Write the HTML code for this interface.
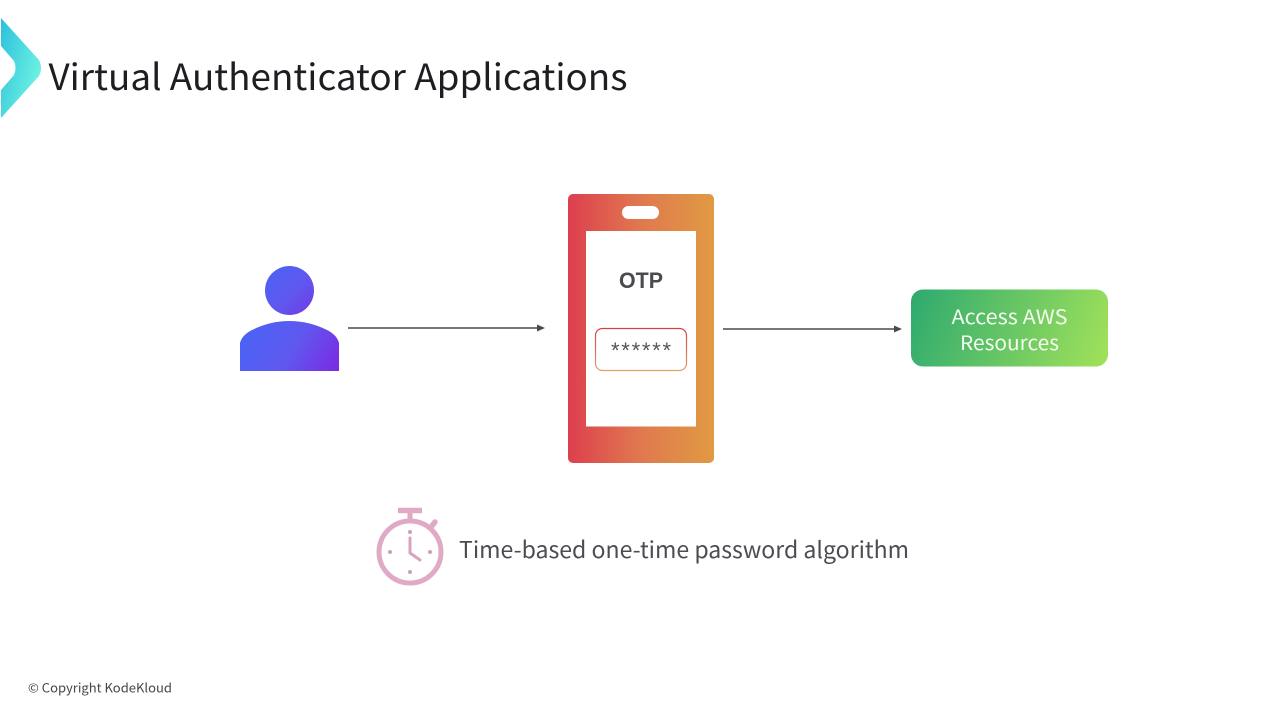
<!DOCTYPE html>
<html><head><meta charset="utf-8"><style>
html,body{margin:0;padding:0;background:#fff;width:1280px;height:720px;overflow:hidden}
svg{display:block}
.n{font-family:"Noto Sans CJK JP","Liberation Sans",sans-serif}
.l{font-family:"Liberation Sans",sans-serif}
</style></head><body>
<svg width="1280" height="720" viewBox="0 0 1280 720" xmlns="http://www.w3.org/2000/svg">
<defs>
<linearGradient id="logo" x1="0" y1="0" x2="1" y2="0.6"><stop offset="0" stop-color="#2cc0dc"/><stop offset="1" stop-color="#6ff3e2"/></linearGradient>
<linearGradient id="userC" x1="0" y1="0" x2="1" y2="1"><stop offset="0" stop-color="#4a63f5"/><stop offset="0.55" stop-color="#5f58ef"/><stop offset="1" stop-color="#7438e6"/></linearGradient>
<linearGradient id="userB" gradientUnits="userSpaceOnUse" x1="250" y1="320" x2="340" y2="372"><stop offset="0" stop-color="#4a63f5"/><stop offset="0.5" stop-color="#5f58ef"/><stop offset="1" stop-color="#7d28e2"/></linearGradient>
<linearGradient id="phone" x1="0" y1="0" x2="1" y2="0"><stop offset="0" stop-color="#dd3f4e"/><stop offset="0.5" stop-color="#e0794f"/><stop offset="1" stop-color="#e09a42"/></linearGradient>
<linearGradient id="box" gradientUnits="userSpaceOnUse" x1="915" y1="295" x2="1100" y2="362"><stop offset="0" stop-color="#30ab6f"/><stop offset="1" stop-color="#9de05a"/></linearGradient>
<linearGradient id="otp" x1="0" y1="0" x2="0" y2="1"><stop offset="0" stop-color="#d8404a"/><stop offset="1" stop-color="#dfa06a"/></linearGradient>
</defs>
<path d="M1 18 L39 60 Q43 68 39 76 L1 118 L1 90 L14 75 Q17 68 14 61 L1 46 Z" fill="url(#logo)"/>
<text class="n" x="48.500" y="90" font-size="36" fill="#1e1e22" textLength="579" lengthAdjust="spacingAndGlyphs">Virtual Authenticator Applications</text>

<circle cx="289.500" cy="290.500" r="24.500" fill="url(#userC)"/>
<path d="M240 371 L240 343 Q242 335 252 330 Q270 321 289.500 321 Q309 321 327 330 Q337 335 339 343 L339 371 Z" fill="url(#userB)"/>

<line x1="348" y1="328" x2="538" y2="328" stroke="#4a4a4f" stroke-width="1.600"/>
<path d="M545 328 L537 324.500 L537 331.500 Z" fill="#4a4a4f"/>

<rect x="568" y="194" width="146" height="269" rx="5" fill="url(#phone)"/>
<rect x="622" y="206" width="37" height="13" rx="6.500" fill="#fff"/>
<rect x="586" y="231" width="110" height="195.500" fill="#fff"/>
<text class="l" x="641" y="288" font-size="22" font-weight="700" fill="#4a4a50" text-anchor="middle" textLength="44" lengthAdjust="spacingAndGlyphs">OTP</text>
<rect x="595.500" y="328.500" width="91" height="42" rx="7" fill="#fff" stroke="url(#otp)" stroke-width="1.200"/>
<text class="l" x="641" y="358" font-size="22" fill="#55555a" text-anchor="middle" textLength="60" lengthAdjust="spacing">******</text>

<line x1="723" y1="329" x2="895" y2="329" stroke="#4a4a4f" stroke-width="1.600"/>
<path d="M902 329 L894 325.500 L894 332.500 Z" fill="#4a4a4f"/>

<rect x="911" y="289.500" width="197" height="77" rx="12" fill="url(#box)"/>
<text class="n" x="1009.500" y="324" font-size="20" fill="#f4fbf0" text-anchor="middle" textLength="116" lengthAdjust="spacingAndGlyphs">Access AWS</text>
<text class="n" x="1009.500" y="350" font-size="20" fill="#f4fbf0" text-anchor="middle" textLength="99" lengthAdjust="spacingAndGlyphs">Resources</text>

<g fill="none" stroke="#e0aac6">
<circle cx="410" cy="552" r="31" stroke-width="5"/>
<line x1="398" y1="510.500" x2="422" y2="510.500" stroke-width="5.500"/>
<line x1="410" y1="512" x2="410" y2="521" stroke-width="5"/>
<line x1="431" y1="527" x2="435" y2="522" stroke-width="5.500" stroke-linecap="round"/>
</g>
<path d="M410 538 L410 553 L420 560" fill="none" stroke="#d9a3bf" stroke-width="3" stroke-linecap="round" stroke-linejoin="round"/>
<g fill="#c9a3b8"><circle cx="410" cy="532" r="2"/><circle cx="410" cy="572" r="2"/><circle cx="390" cy="552" r="2"/><circle cx="430" cy="552" r="2"/></g>
<text class="n" x="459" y="558" font-size="23" fill="#4c4c52" textLength="450" lengthAdjust="spacingAndGlyphs">Time-based one-time password algorithm</text>

<text class="n" x="28" y="692.500" font-size="12.500" fill="#45454a" textLength="144" lengthAdjust="spacingAndGlyphs">© Copyright KodeKloud</text>
</svg>
</body></html>
